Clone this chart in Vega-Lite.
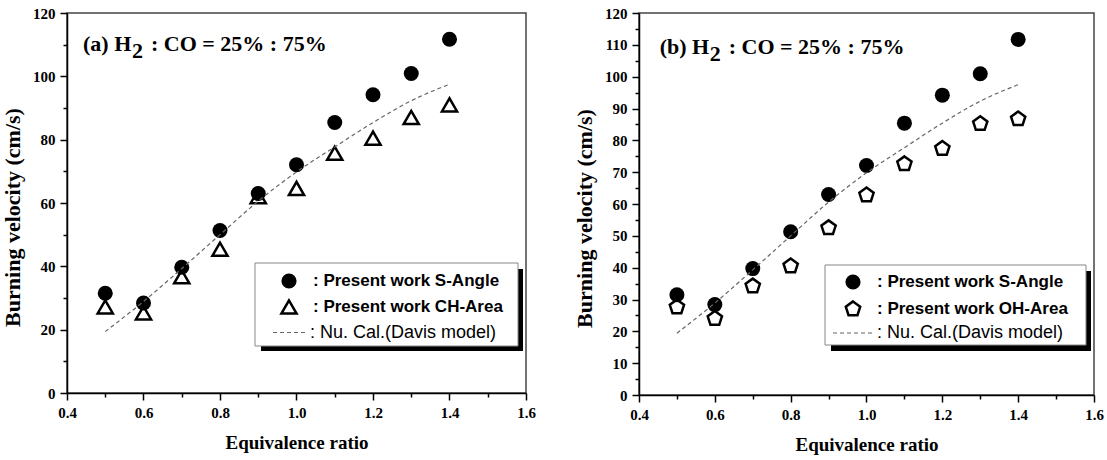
{
  "$schema": "https://vega.github.io/schema/vega-lite/v6.json",
  "background": "white",
  "padding": {"left": 0, "top": 5, "right": 0, "bottom": 0},
  "spacing": 35,
  "datasets": {
    "sangle": [
      {"phi": 0.5, "v": 31.5, "series": ": Present work S-Angle"},
      {"phi": 0.6, "v": 28.4, "series": ": Present work S-Angle"},
      {"phi": 0.7, "v": 39.7, "series": ": Present work S-Angle"},
      {"phi": 0.8, "v": 51.3, "series": ": Present work S-Angle"},
      {"phi": 0.9, "v": 63.0, "series": ": Present work S-Angle"},
      {"phi": 1.0, "v": 72.1, "series": ": Present work S-Angle"},
      {"phi": 1.1, "v": 85.4, "series": ": Present work S-Angle"},
      {"phi": 1.2, "v": 94.2, "series": ": Present work S-Angle"},
      {"phi": 1.3, "v": 100.9, "series": ": Present work S-Angle"},
      {"phi": 1.4, "v": 111.7, "series": ": Present work S-Angle"}
    ],
    "charea": [
      {"phi": 0.5, "v": 27.2, "series": ": Present work CH-Area"},
      {"phi": 0.6, "v": 25.3, "series": ": Present work CH-Area"},
      {"phi": 0.7, "v": 36.7, "series": ": Present work CH-Area"},
      {"phi": 0.8, "v": 45.4, "series": ": Present work CH-Area"},
      {"phi": 0.9, "v": 62.0, "series": ": Present work CH-Area"},
      {"phi": 1.0, "v": 64.6, "series": ": Present work CH-Area"},
      {"phi": 1.1, "v": 75.7, "series": ": Present work CH-Area"},
      {"phi": 1.2, "v": 80.5, "series": ": Present work CH-Area"},
      {"phi": 1.3, "v": 87.0, "series": ": Present work CH-Area"},
      {"phi": 1.4, "v": 91.0, "series": ": Present work CH-Area"}
    ],
    "oharea": [
      {"phi": 0.5, "v": 27.6, "series": ": Present work OH-Area"},
      {"phi": 0.6, "v": 24.0, "series": ": Present work OH-Area"},
      {"phi": 0.7, "v": 34.2, "series": ": Present work OH-Area"},
      {"phi": 0.8, "v": 40.5, "series": ": Present work OH-Area"},
      {"phi": 0.9, "v": 52.5, "series": ": Present work OH-Area"},
      {"phi": 1.0, "v": 62.8, "series": ": Present work OH-Area"},
      {"phi": 1.1, "v": 72.6, "series": ": Present work OH-Area"},
      {"phi": 1.2, "v": 77.4, "series": ": Present work OH-Area"},
      {"phi": 1.3, "v": 85.2, "series": ": Present work OH-Area"},
      {"phi": 1.4, "v": 86.7, "series": ": Present work OH-Area"}
    ],
    "davis": [
      {"phi": 0.5, "v": 19.4, "series": ": Nu. Cal.(Davis model)"},
      {"phi": 0.6, "v": 28.9, "series": ": Nu. Cal.(Davis model)"},
      {"phi": 0.7, "v": 39.3, "series": ": Nu. Cal.(Davis model)"},
      {"phi": 0.8, "v": 50.0, "series": ": Nu. Cal.(Davis model)"},
      {"phi": 0.9, "v": 60.6, "series": ": Nu. Cal.(Davis model)"},
      {"phi": 1.0, "v": 69.8, "series": ": Nu. Cal.(Davis model)"},
      {"phi": 1.1, "v": 77.7, "series": ": Nu. Cal.(Davis model)"},
      {"phi": 1.2, "v": 85.4, "series": ": Nu. Cal.(Davis model)"},
      {"phi": 1.3, "v": 92.3, "series": ": Nu. Cal.(Davis model)"},
      {"phi": 1.4, "v": 97.5, "series": ": Nu. Cal.(Davis model)"}
    ],
    "one": [{}]
  },
  "config": {
    "view": {"stroke": "#444", "strokeWidth": 1.5},
    "axis": {
      "grid": false, "domainColor": "black", "domainWidth": 1.5,
      "tickColor": "black", "tickWidth": 1.5,
      "labelFont": "Liberation Serif", "labelFontSize": 15, "labelFontWeight": "bold",
      "labelColor": "black", "labelPadding": 5, "labelOverlap": false, "labelFlush": false,
      "titleFont": "Liberation Serif", "titleFontWeight": "bold", "titleColor": "black"
    },
    "axisX": {"titleFontSize": 19, "titlePadding": 13},
    "axisY": {"titleFontSize": 22, "titlePadding": 8},
    "legend": {"title": null, "orient": "none", "padding": 0, "labelFont": "Liberation Sans", "labelFontSize": 17, "labelColor": "black", "labelLimit": 400, "symbolOffset": 0}
  },
  "resolve": {
    "scale": {"shape": "independent", "fill": "independent", "stroke": "independent", "strokeDash": "independent"},
    "legend": {"shape": "independent", "fill": "independent", "stroke": "independent", "strokeDash": "independent"}
  },
  "hconcat": [
    {
      "width": 459,
      "height": 380,
      "resolve": {"axis": {"x": "independent", "y": "independent"}},
      "layer": [
        {
          "data": {"name": "sangle"},
          "mark": {"type": "point", "size": 225, "opacity": 1, "strokeWidth": 0},
          "encoding": {
            "x": {"field": "phi", "type": "quantitative", "scale": {"domain": [0.4, 1.6], "nice": false, "zero": false},
              "axis": {"title": "Equivalence ratio", "orient": "bottom", "values": [0.4, 0.6, 0.8, 1.0, 1.2, 1.4, 1.6], "format": ".1f", "tickSize": 7}},
            "y": {"field": "v", "type": "quantitative", "scale": {"domain": [0, 120], "nice": false},
              "axis": {"title": "Burning velocity (cm/s)", "orient": "left", "titleY": 204, "values": [0, 20, 40, 60, 80, 100, 120], "tickSize": 7}},
            "shape": {"field": "series", "type": "nominal",
              "scale": {"domain": [": Present work S-Angle", ": Present work CH-Area"], "range": ["circle", "triangle-up"]},
              "legend": {"legendX": 213, "legendY": 259, "labelFontWeight": "bold", "symbolSize": 230, "symbolStrokeWidth": 2.5, "rowPadding": 1, "labelOffset": 15}},
            "fill": {"field": "series", "type": "nominal",
              "scale": {"domain": [": Present work S-Angle", ": Present work CH-Area"], "range": ["black", "transparent"]}},
            "stroke": {"field": "series", "type": "nominal",
              "scale": {"domain": [": Present work S-Angle", ": Present work CH-Area"], "range": ["transparent", "black"]}}
          }
        },
        {
          "data": {"name": "charea"},
          "mark": {"type": "point", "size": 230, "strokeWidth": 2.5, "opacity": 1},
          "encoding": {
            "x": {"field": "phi", "type": "quantitative",
              "axis": {"orient": "bottom", "values": [0.5, 0.7, 0.9, 1.1, 1.3, 1.5], "tickSize": 4, "labels": false, "domain": false, "title": null}},
            "y": {"field": "v", "type": "quantitative",
              "axis": {"orient": "left", "values": [10, 30, 50, 70, 90, 110], "tickSize": 4, "labels": false, "domain": false, "title": null}},
            "shape": {"field": "series", "type": "nominal"},
            "fill": {"field": "series", "type": "nominal"},
            "stroke": {"field": "series", "type": "nominal"}
          }
        },
        {
          "data": {"name": "one"},
          "mark": {"type": "rect", "fill": "black"},
          "encoding": {
            "x": {"datum": 0.9072, "type": "quantitative", "axis": null},
            "x2": {"datum": 1.5922},
            "y": {"datum": 39.16, "type": "quantitative", "axis": null},
            "y2": {"datum": 13.26}
          }
        },
        {
          "data": {"name": "one"},
          "mark": {"type": "rect", "fill": "white", "stroke": "#888", "strokeWidth": 1},
          "encoding": {
            "x": {"datum": 0.8915, "type": "quantitative", "axis": null},
            "x2": {"datum": 1.5791},
            "y": {"datum": 41.05, "type": "quantitative", "axis": null},
            "y2": {"datum": 14.84}
          }
        },
        {
          "data": {"name": "davis"},
          "mark": {"type": "line", "color": "#666", "strokeWidth": 1.2, "interpolate": "monotone"},
          "encoding": {
            "x": {"field": "phi", "type": "quantitative", "axis": null},
            "y": {"field": "v", "type": "quantitative", "axis": null},
            "strokeDash": {"field": "series", "type": "nominal",
              "scale": {"domain": [": Nu. Cal.(Davis model)"], "range": [[4, 3]]},
              "legend": {"legendX": 205, "legendY": 301, "symbolType": "stroke", "symbolSize": 1225, "symbolStrokeColor": "#666", "symbolStrokeWidth": 1.2, "labelFontWeight": "normal", "labelFontSize": 18, "labelOffset": 1}}
          }
        },
        {
          "data": {"name": "one"},
          "mark": {"type": "text", "font": "Liberation Serif", "fontWeight": "bold", "fontSize": 22, "align": "left", "baseline": "alphabetic", "color": "black"},
          "encoding": {"x": {"datum": 0.4418, "type": "quantitative", "axis": null}, "y": {"datum": 108.0, "type": "quantitative", "axis": null}, "text": {"value": "(a) H"}}
        },
        {
          "data": {"name": "one"},
          "mark": {"type": "text", "font": "Liberation Serif", "fontWeight": "bold", "fontSize": 22, "align": "left", "baseline": "alphabetic", "color": "black", "dx": 49, "dy": 7},
          "encoding": {"x": {"datum": 0.4418, "type": "quantitative", "axis": null}, "y": {"datum": 108.0, "type": "quantitative", "axis": null}, "text": {"value": "2"}}
        },
        {
          "data": {"name": "one"},
          "mark": {"type": "text", "font": "Liberation Serif", "fontWeight": "bold", "fontSize": 22, "align": "left", "baseline": "alphabetic", "color": "black", "dx": 68},
          "encoding": {"x": {"datum": 0.4418, "type": "quantitative", "axis": null}, "y": {"datum": 108.0, "type": "quantitative", "axis": null}, "text": {"value": ": CO = 25% : 75%"}}
        }
      ]
    },
    {
      "width": 455,
      "height": 382,
      "resolve": {"axis": {"x": "independent", "y": "independent"}},
      "layer": [
        {
          "data": {"name": "sangle"},
          "mark": {"type": "point", "size": 225, "opacity": 1, "strokeWidth": 0},
          "encoding": {
            "x": {"field": "phi", "type": "quantitative", "scale": {"domain": [0.4, 1.6], "nice": false, "zero": false},
              "axis": {"title": "Equivalence ratio", "orient": "bottom", "values": [0.4, 0.6, 0.8, 1.0, 1.2, 1.4, 1.6], "format": ".1f", "tickSize": 7}},
            "y": {"field": "v", "type": "quantitative", "scale": {"domain": [0, 120], "nice": false},
              "axis": {"title": "Burning velocity (cm/s)", "orient": "left", "titleY": 205, "values": [0, 10, 20, 30, 40, 50, 60, 70, 80, 90, 100, 110, 120], "tickSize": 7}},
            "shape": {"field": "series", "type": "nominal",
              "scale": {"domain": [": Present work S-Angle", ": Present work OH-Area"], "range": ["circle", "M0,-1L0.951,-0.309L0.588,0.809L-0.588,0.809L-0.951,-0.309Z"]},
              "legend": {"legendX": 205, "legendY": 260, "labelFontWeight": "bold", "symbolSize": 230, "symbolStrokeWidth": 2.5, "rowPadding": 1, "labelOffset": 15}},
            "fill": {"field": "series", "type": "nominal",
              "scale": {"domain": [": Present work S-Angle", ": Present work OH-Area"], "range": ["black", "transparent"]}},
            "stroke": {"field": "series", "type": "nominal",
              "scale": {"domain": [": Present work S-Angle", ": Present work OH-Area"], "range": ["transparent", "black"]}}
          }
        },
        {
          "data": {"name": "oharea"},
          "mark": {"type": "point", "size": 225, "strokeWidth": 2.5, "opacity": 1},
          "encoding": {
            "x": {"field": "phi", "type": "quantitative",
              "axis": {"orient": "bottom", "values": [0.5, 0.7, 0.9, 1.1, 1.3, 1.5], "tickSize": 4, "labels": false, "domain": false, "title": null}},
            "y": {"field": "v", "type": "quantitative",
              "axis": {"orient": "left", "values": [5, 15, 25, 35, 45, 55, 65, 75, 85, 95, 105, 115], "tickSize": 4, "labels": false, "domain": false, "title": null}},
            "shape": {"field": "series", "type": "nominal"},
            "fill": {"field": "series", "type": "nominal"},
            "stroke": {"field": "series", "type": "nominal"}
          }
        },
        {
          "data": {"name": "one"},
          "mark": {"type": "rect", "fill": "black"},
          "encoding": {
            "x": {"datum": 0.9064, "type": "quantitative", "axis": null},
            "x2": {"datum": 1.5921},
            "y": {"datum": 38.95, "type": "quantitative", "axis": null},
            "y2": {"datum": 13.82}
          }
        },
        {
          "data": {"name": "one"},
          "mark": {"type": "rect", "fill": "white", "stroke": "#888", "strokeWidth": 1},
          "encoding": {
            "x": {"datum": 0.8906, "type": "quantitative", "axis": null},
            "x2": {"datum": 1.5789},
            "y": {"datum": 40.84, "type": "quantitative", "axis": null},
            "y2": {"datum": 15.71}
          }
        },
        {
          "data": {"name": "davis"},
          "mark": {"type": "line", "color": "#666", "strokeWidth": 1.2, "interpolate": "monotone"},
          "encoding": {
            "x": {"field": "phi", "type": "quantitative", "axis": null},
            "y": {"field": "v", "type": "quantitative", "axis": null},
            "strokeDash": {"field": "series", "type": "nominal",
              "scale": {"domain": [": Nu. Cal.(Davis model)"], "range": [[4, 3]]},
              "legend": {"legendX": 193, "legendY": 298, "symbolType": "stroke", "symbolSize": 1764, "symbolStrokeColor": "#666", "symbolStrokeWidth": 1.2, "labelFontWeight": "normal", "labelFontSize": 18, "labelOffset": 1}}
          }
        },
        {
          "data": {"name": "one"},
          "mark": {"type": "text", "font": "Liberation Serif", "fontWeight": "bold", "fontSize": 22, "align": "left", "baseline": "alphabetic", "color": "black"},
          "encoding": {"x": {"datum": 0.4546, "type": "quantitative", "axis": null}, "y": {"datum": 107.1, "type": "quantitative", "axis": null}, "text": {"value": "(b) H"}}
        },
        {
          "data": {"name": "one"},
          "mark": {"type": "text", "font": "Liberation Serif", "fontWeight": "bold", "fontSize": 22, "align": "left", "baseline": "alphabetic", "color": "black", "dx": 50, "dy": 7},
          "encoding": {"x": {"datum": 0.4546, "type": "quantitative", "axis": null}, "y": {"datum": 107.1, "type": "quantitative", "axis": null}, "text": {"value": "2"}}
        },
        {
          "data": {"name": "one"},
          "mark": {"type": "text", "font": "Liberation Serif", "fontWeight": "bold", "fontSize": 22, "align": "left", "baseline": "alphabetic", "color": "black", "dx": 69},
          "encoding": {"x": {"datum": 0.4546, "type": "quantitative", "axis": null}, "y": {"datum": 107.1, "type": "quantitative", "axis": null}, "text": {"value": ": CO = 25% : 75%"}}
        }
      ]
    }
  ]
}
